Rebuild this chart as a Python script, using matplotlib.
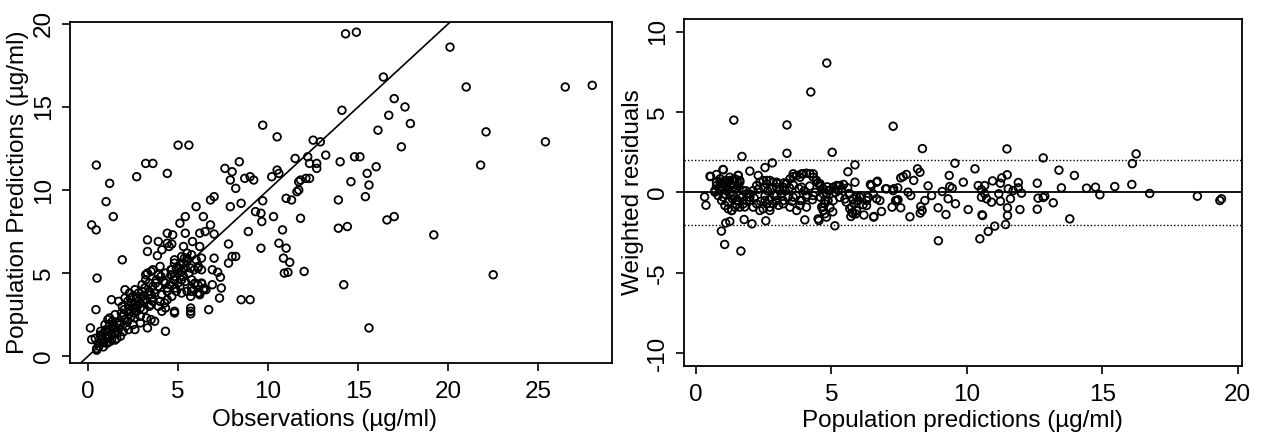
import numpy as np
import matplotlib
matplotlib.use("Agg")
import matplotlib.pyplot as plt

# Left panel: observations vs population predictions (ug/ml)
obs = [
    14.3, 14.9, 20.1, 16.4, 21.0, 26.5, 28.0, 17.0, 17.6, 14.1, 16.7, 17.9, 16.1, 22.1, 12.5, 12.9,
    25.4, 17.4, 13.2, 12.2, 14.8, 15.1, 14.0, 12.3, 12.7, 12.7, 21.8, 16.0, 15.5, 14.6, 15.6, 12.1,
    12.3, 11.8, 11.7, 15.4, 13.9, 19.2, 11.8, 16.6, 17.0, 13.9, 14.4, 12.0, 22.5, 14.2, 15.6,
    0.46, 1.0, 1.2, 1.4, 2.7, 3.2, 3.6, 4.4, 5.0, 5.6, 6.0, 6.4, 6.8, 7.0, 5.4, 7.6, 8.0, 7.9, 8.4,
    8.2, 7.9, 8.5, 8.7, 9.0, 9.2, 9.7, 10.5, 9.7, 9.3, 9.6, 10.2, 10.5, 10.6, 11.0, 11.3, 11.5, 11.6,
    11.7, 10.3,
    0.2, 0.45, 1.9, 0.5, 0.44, 0.13, 3.3, 3.3, 3.9, 4.1, 4.4, 4.7, 4.4, 4.65, 5.1, 5.4, 6.2, 6.5,
    6.8, 7.0, 5.8, 6.2, 5.3, 7.8, 8.9, 9.65, 10.8, 9.6, 10.6, 11.0, 10.85, 11.2, 10.9, 11.1, 7.8,
    8.2, 8.0, 7.0, 6.9, 7.2, 7.35, 7.4, 6.9, 7.3, 6.7, 8.5, 9.0, 5.7, 5.7, 4.8, 4.3, 3.3, 3.7, 2.9,
    2.6, 6.13, 5.94, 6.31, 6.46, 6.2,
    3.85, 4.5, 4.8, 5.2, 5.5, 5.75, 6.0, 6.3, 3.3, 3.5, 3.9, 4.3, 4.65, 4.9, 5.2, 5.7, 5.9, 4.8, 5.3,
    5.4, 5.75, 5.9, 6.3, 5.0, 4.75, 2.05, 2.3, 2.6, 3.0, 3.35, 3.7, 4.1, 4.4, 4.65, 4.9, 5.2, 5.5,
    5.75, 6.1, 1.3, 1.7, 2.05, 2.4, 2.8, 3.2, 3.5, 3.9, 4.3, 4.8, 5.7, 3.25, 3.5, 2.5, 2.25,
    0.4, 0.67, 0.94, 1.1, 1.4, 1.6, 1.9, 2.05, 2.3, 2.4, 2.7, 2.9, 1.5, 1.1, 0.94, 0.76, 0.57, 0.48,
    0.85, 1.2, 1.6, 1.96, 1.7, 1.3, 0.2, 0.85, 1.2, 0.48, 1.04, 1.5, 1.8, 1.4, 1.8, 1.2, 2.0, 2.25,
    2.6, 2.9, 3.5, 4.1, 4.4, 5.1, 5.3, 5.6, 5.5, 5.1, 5.4, 4.8, 4.6, 5.75, 6.1, 6.4, 5.7, 6.2, 6.55,
    6.1, 6.3,
    0.7, 0.9, 1.3, 1.5, 1.7, 2.0, 2.2, 2.5, 2.7, 3.0, 3.1, 3.4, 3.6, 3.2, 3.0, 2.8, 2.5, 2.2, 1.0,
    0.6, 0.7, 1.9, 3.6, 3.9, 4.2, 4.4, 4.6, 4.0, 3.6, 3.2, 5.0, 5.2, 5.5, 4.3, 3.4, 2.9, 1.2, 2.6,
    3.8, 4.0,
    1.0, 1.35, 1.65, 1.85, 2.1, 2.35, 2.55, 2.75, 3.05, 3.15, 3.4, 3.55, 3.75, 4.05, 4.25, 4.55,
    4.85, 5.05, 5.35, 0.8,
]
pop_pred = [
    19.4, 19.5, 18.6, 16.8, 16.2, 16.2, 16.3, 15.5, 15.0, 14.8, 14.5, 14.0, 13.6, 13.5, 13.0, 12.9,
    12.9, 12.6, 12.1, 12.0, 12.0, 12.0, 11.7, 11.6, 11.6, 11.3, 11.5, 11.4, 11.0, 10.5, 10.3, 10.7,
    10.7, 10.6, 10.0, 9.6, 9.4, 7.3, 8.3, 8.2, 8.4, 7.7, 7.8, 5.1, 4.9, 4.3, 1.7,
    11.5, 9.3, 10.4, 8.4, 10.8, 11.6, 11.6, 11.0, 12.7, 12.7, 9.0, 8.4, 9.4, 9.6, 8.4, 11.3, 11.1,
    10.6, 11.7, 10.1, 9.0, 9.2, 10.7, 10.8, 10.6, 13.9, 13.2, 9.35, 8.7, 8.6, 10.8, 11.2, 11.0, 9.5,
    9.4, 11.9, 9.9, 10.5, 8.4,
    7.9, 7.6, 5.8, 4.7, 2.8, 1.7, 7.0, 6.3, 6.9, 6.4, 7.4, 7.3, 6.8, 6.75, 8.0, 7.4, 7.4, 7.5, 7.9,
    7.35, 6.9, 6.6, 6.6, 6.75, 7.5, 8.1, 7.6, 6.5, 6.8, 6.5, 5.9, 5.65, 5.0, 5.05, 5.6, 6.0, 6.0,
    5.9, 5.2, 5.05, 4.75, 4.1, 4.3, 3.5, 2.8, 3.4, 3.4, 2.9, 2.55, 2.6, 1.5, 1.7, 2.1, 2.0, 1.6,
    5.4, 4.4, 4.36, 4.08, 3.78,
    6.05, 6.6, 5.8, 6.0, 6.2, 6.1, 5.8, 5.9, 5.0, 5.1, 4.9, 5.0, 5.2, 5.3, 5.1, 5.3, 5.2, 5.6, 5.6,
    4.5, 4.6, 4.35, 4.4, 4.4, 4.6, 4.0, 3.8, 4.0, 3.9, 3.7, 3.8, 3.7, 3.9, 3.6, 3.9, 3.8, 3.9, 3.9,
    3.8, 3.4, 3.3, 3.5, 3.2, 3.3, 3.4, 3.1, 3.0, 2.9, 2.7, 2.7, 2.3, 2.2, 1.9, 1.6,
    1.07, 1.27, 1.47, 1.17, 1.67, 1.98, 2.4, 2.2, 2.7, 2.4, 2.7, 2.9, 2.5, 2.2, 1.9, 0.97, 0.77,
    0.46, 0.56, 0.87, 1.07, 1.47, 1.67, 1.37, 1.0, 1.37, 1.58, 0.36, 0.77, 0.97, 1.2, 1.8, 1.9, 2.3,
    2.8, 3.0, 2.3, 3.2, 3.7, 2.7, 3.4, 4.2, 4.8, 5.0, 5.7, 5.5, 5.3, 4.8, 5.2, 4.1, 4.3, 4.0, 3.6,
    3.7, 4.0, 5.3, 5.2,
    1.5, 0.9, 1.0, 1.4, 2.0, 2.5, 2.1, 2.9, 3.5, 3.6, 2.8, 3.9, 4.2, 4.6, 4.3, 3.8, 3.6, 3.3, 1.1,
    0.6, 1.2, 3.0, 3.3, 4.2, 4.5, 4.1, 4.9, 5.4, 5.2, 4.9, 5.0, 4.6, 5.9, 4.4, 3.0, 2.4, 1.9, 3.1,
    4.6, 3.3,
    1.6, 2.1, 1.4, 2.6, 1.8, 3.5, 2.6, 3.1, 3.3, 4.1, 4.4, 3.5, 4.4, 4.8, 3.2, 4.3,
    4.1, 5.3, 5.9, 0.8,
]

# Right panel: population predictions vs weighted residuals
res_pred = [
    4.83, 4.24, 1.40, 3.36, 7.28, 8.36, 3.36, 5.03, 1.70, 2.82, 2.55, 5.87, 1.99, 5.61, 0.52, 1.0,
    8.18, 8.27, 0.94, 1.06, 1.66, 1.1, 1.25, 1.78, 2.07, 2.58, 4.02, 4.54, 5.13, 6.56, 7.9, 8.95,
    0.32, 0.37,
    9.56, 10.3, 7.77, 7.65, 7.56, 8.04, 9.35, 9.87, 6.7, 6.44, 5.87, 7.0, 7.3, 7.45, 8.57, 9.37,
    9.46, 9.09, 10.42, 10.54, 5.25, 5.38, 5.6, 5.65, 5.93, 5.99, 5.84, 5.75, 5.77, 5.9, 5.72, 5.93,
    6.17, 6.3, 6.36, 6.54, 6.67, 6.79, 6.85, 6.57, 7.24, 7.37, 7.46, 7.56, 7.83, 7.93, 8.3, 8.35,
    8.28, 8.45, 8.7, 8.94, 9.23, 9.31, 9.58, 10.05, 10.56,
    11.48, 12.82, 16.25, 16.11, 13.4, 13.97, 11.49, 11.29, 11.24, 10.95, 10.66, 11.9, 11.9, 11.53,
    11.71, 12.02, 11.18, 10.66, 10.54, 10.73, 10.91, 11.24, 11.61, 12.6, 13.49, 14.42, 14.75, 15.46,
    16.09, 14.91, 16.75, 18.51, 19.34, 19.4, 12.63, 12.82, 12.88, 13.19, 11.5, 11.5, 11.96, 12.6,
    13.8, 10.58, 11.43, 11.03, 10.79, 10.48,
    0.54, 0.76, 1.01, 0.89, 1.07, 1.25, 1.38, 1.56, 1.62, 0.76, 0.7, 0.82, 0.95, 1.07, 1.19, 1.32,
    1.44, 1.56, 1.62, 1.75, 1.87, 1.01, 1.13, 1.25, 1.38, 1.5, 0.89, 1.56,
    1.87, 1.99, 2.11, 2.24, 2.36, 2.48, 2.61, 2.73, 2.85, 2.98, 3.1, 3.22, 3.35, 3.47, 3.59, 3.72,
    3.84, 3.96, 4.08, 4.21, 4.33, 4.45, 4.58, 4.7, 4.82, 4.94, 5.07, 5.19, 5.25, 4.88, 4.7, 4.76,
    4.82, 4.51, 4.08, 3.84, 3.72, 3.47, 3.22, 2.98, 2.85, 2.73, 2.61, 2.48, 2.36, 2.24, 2.11, 1.99,
    1.75,
    2.3, 2.61, 2.98, 3.35, 3.59, 3.9, 4.33, 3.9, 2.98, 2.55, 2.73, 3.22, 3.59, 3.84, 4.08, 4.33,
    4.58, 4.7, 4.88, 4.76, 4.64, 4.7, 5.07, 5.31, 5.68, 5.8, 6.05, 5.68, 5.8, 6.3, 6.48, 6.67,
    7.04, 7.28, 7.41,
    0.76, 0.89, 0.7, 1.13, 1.25, 1.44, 1.56, 1.62, 1.38, 1.5, 1.19, 1.01, 1.62, 1.32,
    0.85, 0.95, 1.05, 1.15, 1.2, 1.3, 1.35, 1.45, 1.5, 1.55, 1.7, 1.8, 1.85,
    2.0, 2.15, 2.3, 2.4, 2.5, 2.55, 2.65, 2.7, 2.8, 2.9, 3.0, 3.05, 3.15, 3.25, 3.3, 3.4, 3.45,
    3.55, 3.6, 3.7, 3.8, 3.9, 4.0, 4.1, 4.2, 4.3, 4.4, 4.5, 4.6, 4.75, 4.85, 4.95, 5.05, 5.15,
    5.3, 5.45, 5.5, 5.55, 6.1, 6.2,
]
wres = [
    8.05, 6.25, 4.5, 4.2, 4.12, 2.73, 2.44, 2.5, 2.24, 1.84, 1.55, 1.72, 1.33, 1.29, 1.01, 1.43,
    1.47, 1.26, -2.4, -3.23, -3.64, -1.9, -1.8, -1.68, -1.95, -1.76, -1.7, -1.74, -2.07, -1.53,
    -1.51, -3.0, -0.27, -0.79,
    1.82, 1.47, 1.12, 0.99, 0.91, 0.75, 1.06, 0.64, 0.7, 0.5, 0.64, 0.23, 0.23, 0.29, 0.41, 0.37,
    0.27, 0.06, 0.43, 0.17, 0.43, 0.23, 0.29, -0.08, -0.29, -0.5, -0.7, -0.91, -1.26, -1.33, -1.49,
    -1.12, -0.76, -0.81, -0.29, -0.08, -0.39, -0.5, -1.18, -1.49, -0.91, -0.5, -0.45, -0.95, 0.02,
    -0.19, -0.87, -1.12, -1.28, -0.5, -0.19, -0.95, -1.37, -0.39, -0.7, -1.06, -1.39,
    2.71, 2.15, 2.4, 1.8, 1.39, 1.06, 1.1, 0.91, 0.58, 0.72, 0.43, 0.62, 0.29, 0.23, 0.12, -0.04,
    -0.08, -0.08, -0.29, -0.39, -0.6, -0.54, -0.39, 0.58, 0.29, 0.27, 0.33, 0.37, 0.5, -0.14, -0.06,
    -0.23, -0.5, -0.39, -0.35, -0.31, -0.23, -0.64, -0.95, -1.43, -1.06, -1.04, -1.64, -1.43,
    -1.99, -2.09, -2.42, -2.88,
    0.99, 1.12, 1.41, 0.85, 0.75, 0.95, 0.79, 1.06, 0.75, 0.43, 0.12, -0.19, -0.5, -0.81, -1.01,
    -1.12, -0.91, -0.5, -0.19, 0.12, -0.08, 0.33, 0.12, -0.08, 0.33, 0.23, 0.64, 0.54,
    -0.5, -0.29, 0.12, 0.43, 0.64, 0.75, 0.54, 0.75, 0.64, 0.33, 0.12, 0.33, 0.54, 0.85, 0.99, 1.06,
    0.95, 1.16, 1.2, 1.16, 0.95, 0.75, 0.43, 0.23, -0.08, 0.12, 0.33, 0.43, 0.12, -0.5, -0.91,
    -1.32, -1.53, -1.64, -0.91, -0.81, -1.12, -0.91, -0.7, -0.5, -0.7, -0.91, -0.7, -1.01, -1.12,
    -0.7, -0.91, -0.5, -0.7,
    1.06, 0.75, 0.64, 0.58, 1.16, 1.16, 1.16, 0.33, -0.19, -0.5, -1.12, -0.5, -0.29, -0.5, -0.29,
    -0.19, 0.54, -0.08, 0.12, -0.5, -0.91, -1.12, -0.5, 0.43, -0.08, -0.39, -0.29, -1.01, -1.32,
    -0.5, 0.43, 0.64, 0.23, 0.12, -0.5,
    0.64, 0.12, 0.02, 0.43, 0.75, 0.85, 1.06, 0.64, -0.19, -0.5, -0.6, -0.29, -0.91, -1.12,
    0.3, 0.55, -0.1, 0.65, 0.2, 0.5, -0.4, 0.2, -0.75, 0.4, -0.3, -0.9, 0.1,
    -0.1, -0.35, 0.2, -0.55, 0.3, -0.2, 0.1, -0.45, 0.3, -0.2, 0.55, -0.8, -0.1, 0.6, 0.1, -0.3, 0.3,
    -0.55, 0.45, -0.2, 0.25, -0.5, 0.1, -0.15, 0.4, -0.45, 0.0, 0.6, -0.3, -0.7, 0.35, -0.95, -1.2,
    0.0, -0.3, 0.5, -0.4, -0.6, -0.2, -1.4,
]

FS = 17.5
plt.rcParams["font.family"] = ["Liberation Sans", "DejaVu Sans"]
plt.rcParams["axes.linewidth"] = 1.3
plt.rcParams["axes.unicode_minus"] = False

fig = plt.figure(figsize=(12.62, 4.37), dpi=100)
ax1 = fig.add_axes([0.0555, 0.169, 0.4295, 0.781])
ax2 = fig.add_axes([0.542, 0.162, 0.442, 0.795])

marker = dict(s=30, facecolors="none", edgecolors="black", linewidths=1.3, zorder=3)

ax1.scatter(obs, pop_pred, **marker)
ax1.plot([-1, 30], [-1, 30], color="black", lw=1.2, zorder=2)
ax1.set_xlim(-1.0, 29.1)
ax1.set_ylim(-0.42, 20.12)
ax1.set_xticks([0, 5, 10, 15, 20, 25])
ax1.set_yticks([0, 5, 10, 15, 20])
ax1.set_xlabel("Observations (µg/ml)", fontsize=FS)
ax1.xaxis.set_label_coords(0.47, -0.135)
ax1.xaxis.label.set_va("top")
ax1.set_ylabel("Population Predictions (µg/ml)", fontsize=FS, labelpad=3)

ax2.scatter(res_pred, wres, **marker)
ax2.axhline(0, color="black", lw=1.3, zorder=2)
for h in (-2, 2):
    ax2.axhline(h, color="black", lw=1.0, ls=(0, (1, 1.5)), zorder=2)
ax2.set_xlim(-0.44, 20.15)
ax2.set_ylim(-10.8, 10.8)
ax2.set_xticks([0, 5, 10, 15, 20])
ax2.set_yticks([-10, -5, 0, 5, 10])
ax2.set_xlabel("Population predictions (µg/ml)", fontsize=FS, labelpad=3)
ax2.set_ylabel("Weighted residuals", fontsize=FS, labelpad=2)

for ax in (ax1, ax2):
    ax.tick_params(direction="out", length=6, width=1.2, labelsize=FS, pad=7)
    ax.tick_params(axis="y", labelrotation=90, pad=5)
    plt.setp(ax.get_yticklabels(), va="center")

fig.savefig("out.png", dpi=100)
